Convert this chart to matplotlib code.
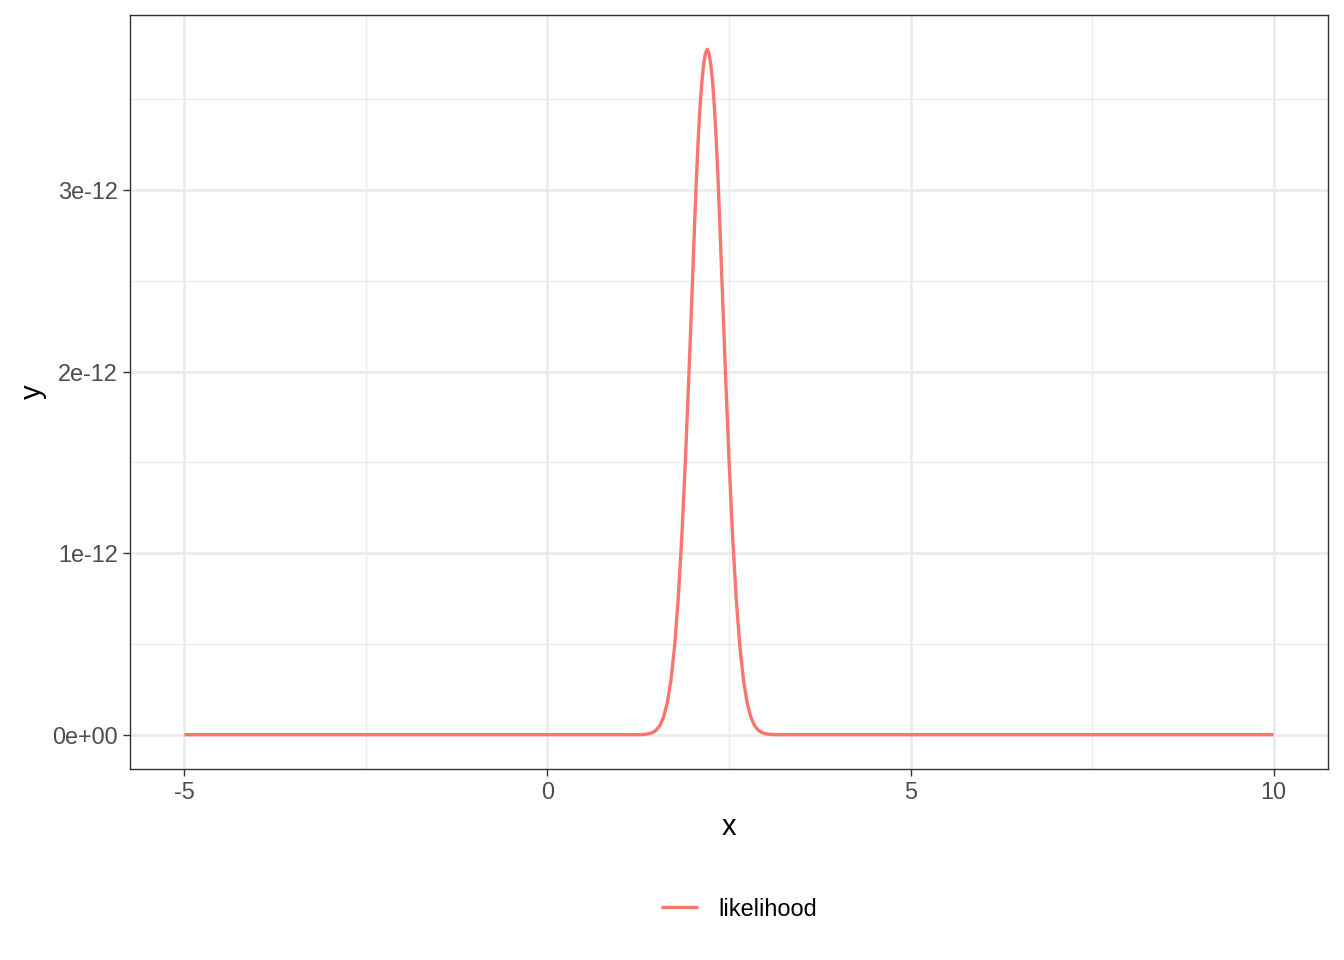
import matplotlib
matplotlib.use("Agg")
import matplotlib.pyplot as plt
from matplotlib.ticker import FixedLocator

plt.rcParams['font.family'] = ['Liberation Sans', 'DejaVu Sans']

# Values (y in units of 1e-12)
x_vals = [-5.0, 0.0, 1.20, 1.30, 1.35, 1.40, 1.45, 1.50, 1.55, 1.60, 1.65, 1.70, 1.75,
          1.80, 1.85, 1.90, 1.95, 2.00, 2.025, 2.05, 2.075, 2.10, 2.125, 2.15, 2.175,
          2.20, 2.225, 2.25, 2.275, 2.30, 2.325, 2.35, 2.375,
          2.40, 2.45, 2.50, 2.55, 2.60, 2.65, 2.70, 2.75, 2.80, 2.85, 2.90, 2.95,
          3.00, 3.05, 3.10, 3.20, 5.0, 10.0]
y_vals = [0.0, 0.0, 0.0, 0.001, 0.0025, 0.0057, 0.0126, 0.026, 0.052, 0.098, 0.176,
          0.299, 0.484, 0.745, 1.090, 1.515, 2.003, 2.530, 2.800, 3.050, 3.270, 3.450,
          3.590, 3.690, 3.752, 3.775, 3.752, 3.690, 3.590, 3.450, 3.270, 3.050, 2.800,
          2.530, 2.003, 1.515, 1.090, 0.745, 0.484, 0.299, 0.176,
          0.098, 0.052, 0.026, 0.0126, 0.0057, 0.0025, 0.001, 0.0, 0.0, 0.0]
x_ticks = [-5, 0, 5, 10]
x_minor = [-2.5, 2.5, 7.5]
y_ticks = [0, 1, 2, 3]
y_minor = [0.5, 1.5, 2.5, 3.5]
y_tick_labels = ["0e+00", "1e-12", "2e-12", "3e-12"]
series_name = "likelihood"

fig = plt.figure(figsize=(13.44, 9.6), dpi=100)
ax = fig.add_axes([130/1344, 1-769/960, (1328-130)/1344, (769-15)/960])

ax.plot(x_vals, y_vals, color="#F8766D", lw=2.4, label=series_name,
        solid_capstyle='butt', solid_joinstyle='round')

ax.set_xlim(-5.75, 10.75)
ax.set_ylim(-0.189, 3.964)

ax.xaxis.set_major_locator(FixedLocator(x_ticks))
ax.xaxis.set_minor_locator(FixedLocator(x_minor))
ax.yaxis.set_major_locator(FixedLocator(y_ticks))
ax.yaxis.set_minor_locator(FixedLocator(y_minor))
ax.set_xticklabels([str(t) for t in x_ticks])
ax.set_yticklabels(y_tick_labels)

ax.grid(which='major', color='#EBEBEB', lw=1.9)
ax.grid(which='minor', color='#EBEBEB', lw=0.95)
ax.set_axisbelow(True)

for s in ax.spines.values():
    s.set_color('#333333')
    s.set_linewidth(1.0)

ax.tick_params(which='major', length=5.3, width=1.0, color='#333333',
               labelsize=16.9, labelcolor='#4D4D4D', pad=3.5)
ax.tick_params(which='minor', length=0)

ax.set_xlabel("x", fontsize=21, color='black', labelpad=6.5)
ax.set_ylabel("y", fontsize=21, color='black', labelpad=4)

leg = fig.legend(loc='center', bbox_to_anchor=(739/1344, 1-909/960), frameon=False,
                 fontsize=16.9, handlelength=1.6, handletextpad=0.85)

fig.savefig("out.png", dpi=100)
